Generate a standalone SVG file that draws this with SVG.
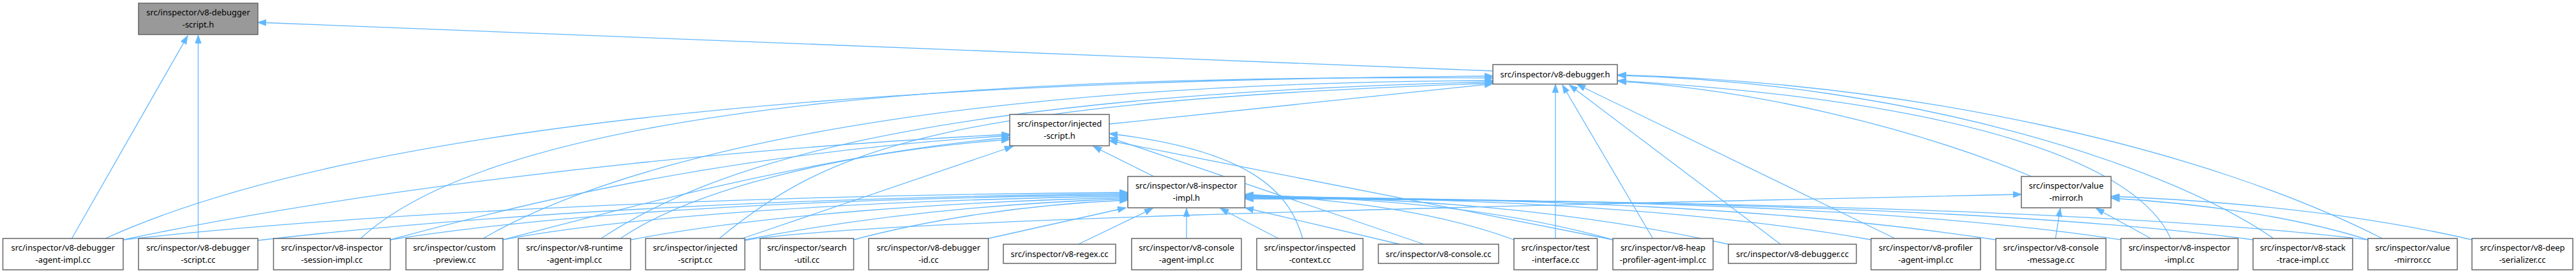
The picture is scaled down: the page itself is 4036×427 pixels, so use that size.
<svg xmlns="http://www.w3.org/2000/svg" width="4036" height="427" viewBox="0 0 4036 427">
<style>
.node rect{fill:#ffffff;stroke:#666666;stroke-width:1.5}
.node.root rect{fill:#999999}
.node text{font-family:"Noto Sans","Liberation Sans",sans-serif;font-size:13px;fill:#000000;text-anchor:middle}
.edges path{fill:none;stroke:#63b8ff;stroke-width:1.3;marker-end:url(#ah)}
</style>
<defs>
<marker id="ah" markerUnits="userSpaceOnUse" markerWidth="14" markerHeight="10" refX="13" refY="5" orient="auto" viewBox="0 0 14 10">
<path d="M0,0.3 L13,5 L0,9.7 z" fill="#63b8ff" stroke="#63b8ff" stroke-width="1"/>
</marker>
</defs>
<rect x="0" y="0" width="4036" height="427" fill="#ffffff"/>
<g class="edges" id="connectors">
<path d="M2339,111 L404,35"/>
<path d="M112.5,373 L294,56"/>
<path d="M310.5,373 L310.5,55"/>
<path d="M165,373 Q700,130 2339,119"/>
<path d="M565,373 Q850,110 2339,122"/>
<path d="M757,373 C900,290 1300,130 2339,126"/>
<path d="M941.6,373 C1100,270 1400,150 2339,128"/>
<path d="M1127,373 C1300,230 1480,160 2339,130"/>
<path d="M1738,194 L2339,131"/>
<path d="M2437,373 L2437,132"/>
<path d="M2589.6,373 L2448,133"/>
<path d="M2789.6,382 L2459,133"/>
<path d="M2969,373 L2471,132"/>
<path d="M3732.6,373 C3450,230 3000,130 2535,117"/>
<path d="M3562,373 C3400,260 3000,130 2535,118"/>
<path d="M3401,373 C3350,260 3100,160 2535,126"/>
<path d="M3183,276 C3000,200 2750,140 2535,127"/>
<path d="M193,375 C500,310 1000,240 1582,210"/>
<path d="M611.5,375 C850,310 1150,240 1582,212"/>
<path d="M788,375 C1000,320 1300,240 1582,215"/>
<path d="M972,373 C1080,300 1300,240 1582,218"/>
<path d="M1163,373 L1587,229"/>
<path d="M1808,276 L1713,229"/>
<path d="M2041,373 C2020,300 1960,235 1738,209"/>
<path d="M2231,382 L1738,215"/>
<path d="M2527,375 L1738,220"/>
<path d="M193,375 C600,330 1200,305 1767,301"/>
<path d="M404,376 C800,330 1300,308 1767,303"/>
<path d="M611.5,375 C900,330 1300,310 1767,305"/>
<path d="M788,375 C1000,335 1400,312 1767,307"/>
<path d="M988,375 C1200,335 1500,315 1767,309"/>
<path d="M1167,375 C1350,340 1550,318 1767,311"/>
<path d="M1337.5,375 C1450,345 1600,320 1767,313"/>
<path d="M1548.5,373 L1764,325"/>
<path d="M1689.5,382 L1806,326"/>
<path d="M1859,373 L1859,326"/>
<path d="M2003,373 L1912,326"/>
<path d="M2193,382 L1951,325"/>
<path d="M2372,375 C2250,330 2100,312 1951,304"/>
<path d="M2527,375 C2350,325 2150,310 1951,305"/>
<path d="M2708,382 C2450,325 2200,310 1951,306"/>
<path d="M2931.5,375 C2650,325 2300,310 1951,307"/>
<path d="M3127,375 C2800,325 2400,310 1951,308"/>
<path d="M3323,375 C3000,325 2500,311 1951,309"/>
<path d="M3530,375 C3200,330 2600,312 1951,310"/>
<path d="M3710,375 C3350,332 2700,313 1951,311"/>
<path d="M1167,376 C1350,345 2200,325 3167,304"/>
<path d="M3220.5,373 L3228,326"/>
<path d="M3370,373 L3284,326"/>
<path d="M3710,375 C3600,340 3450,318 3308,310"/>
<path d="M3873,375 C3700,335 3500,315 3308,307"/>
</g>
<g class="node root" id="n_root"><rect x="217" y="5" width="187" height="49"/><text x="310.5" y="24">src/inspector/v8-debugger</text><text x="310.5" y="42.7">-script.h</text></g>
<g class="node" id="n_dbgh"><rect x="2339" y="101" width="195" height="30.5"/><text x="2436.5" y="121">src/inspector/v8-debugger.h</text></g>
<g class="node" id="n_injh"><rect x="1582" y="179" width="156" height="49"/><text x="1660" y="198">src/inspector/injected</text><text x="1660" y="216.7">-script.h</text></g>
<g class="node" id="n_implh"><rect x="1767" y="276" width="183.5" height="49"/><text x="1858.75" y="295">src/inspector/v8-inspector</text><text x="1858.75" y="313.7">-impl.h</text></g>
<g class="node" id="n_vmh"><rect x="3167" y="276" width="140.5" height="49"/><text x="3237.25" y="295">src/inspector/value</text><text x="3237.25" y="313.7">-mirror.h</text></g>
<g class="node" id="n_agent"><rect x="4.5" y="373" width="188.5" height="49"/><text x="98.75" y="392">src/inspector/v8-debugger</text><text x="98.75" y="410.7">-agent-impl.cc</text></g>
<g class="node" id="n_scriptcc"><rect x="217" y="373" width="187" height="49"/><text x="310.5" y="392">src/inspector/v8-debugger</text><text x="310.5" y="410.7">-script.cc</text></g>
<g class="node" id="n_session"><rect x="428.5" y="373" width="183" height="49"/><text x="520" y="392">src/inspector/v8-inspector</text><text x="520" y="410.7">-session-impl.cc</text></g>
<g class="node" id="n_custom"><rect x="636" y="373" width="152" height="49"/><text x="712" y="392">src/inspector/custom</text><text x="712" y="410.7">-preview.cc</text></g>
<g class="node" id="n_runtime"><rect x="812" y="373" width="176" height="49"/><text x="900" y="392">src/inspector/v8-runtime</text><text x="900" y="410.7">-agent-impl.cc</text></g>
<g class="node" id="n_injcc"><rect x="1011.5" y="373" width="155.5" height="49"/><text x="1089.25" y="392">src/inspector/injected</text><text x="1089.25" y="410.7">-script.cc</text></g>
<g class="node" id="n_search"><rect x="1191" y="373" width="146.5" height="49"/><text x="1264.25" y="392">src/inspector/search</text><text x="1264.25" y="410.7">-util.cc</text></g>
<g class="node" id="n_dbgid"><rect x="1361" y="373" width="187.5" height="49"/><text x="1454.75" y="392">src/inspector/v8-debugger</text><text x="1454.75" y="410.7">-id.cc</text></g>
<g class="node" id="n_regex"><rect x="1572" y="382" width="176" height="30"/><text x="1660" y="401.5">src/inspector/v8-regex.cc</text></g>
<g class="node" id="n_consagent"><rect x="1773" y="373" width="172" height="49"/><text x="1859" y="392">src/inspector/v8-console</text><text x="1859" y="410.7">-agent-impl.cc</text></g>
<g class="node" id="n_inspctx"><rect x="1969" y="373" width="166.5" height="49"/><text x="2052.25" y="392">src/inspector/inspected</text><text x="2052.25" y="410.7">-context.cc</text></g>
<g class="node" id="n_console"><rect x="2159.5" y="382" width="188.5" height="30"/><text x="2253.75" y="401.5">src/inspector/v8-console.cc</text></g>
<g class="node" id="n_testif"><rect x="2372" y="373" width="130.5" height="49"/><text x="2437.25" y="392">src/inspector/test</text><text x="2437.25" y="410.7">-interface.cc</text></g>
<g class="node" id="n_heap"><rect x="2527" y="373" width="157" height="49"/><text x="2605.5" y="392">src/inspector/v8-heap</text><text x="2605.5" y="410.7">-profiler-agent-impl.cc</text></g>
<g class="node" id="n_dbgcc"><rect x="2708" y="382" width="200.5" height="30"/><text x="2808.25" y="401.5">src/inspector/v8-debugger.cc</text></g>
<g class="node" id="n_profiler"><rect x="2931.5" y="373" width="171.5" height="49"/><text x="3017.25" y="392">src/inspector/v8-profiler</text><text x="3017.25" y="410.7">-agent-impl.cc</text></g>
<g class="node" id="n_consmsg"><rect x="3127" y="373" width="172.5" height="49"/><text x="3213.25" y="392">src/inspector/v8-console</text><text x="3213.25" y="410.7">-message.cc</text></g>
<g class="node" id="n_implcc"><rect x="3323" y="373" width="183.5" height="49"/><text x="3414.75" y="392">src/inspector/v8-inspector</text><text x="3414.75" y="410.7">-impl.cc</text></g>
<g class="node" id="n_stack"><rect x="3530" y="373" width="156" height="49"/><text x="3608" y="392">src/inspector/v8-stack</text><text x="3608" y="410.7">-trace-impl.cc</text></g>
<g class="node" id="n_vmcc"><rect x="3710" y="373" width="140" height="49"/><text x="3780" y="392">src/inspector/value</text><text x="3780" y="410.7">-mirror.cc</text></g>
<g class="node" id="n_deep"><rect x="3873" y="373" width="158" height="49"/><text x="3952" y="392">src/inspector/v8-deep</text><text x="3952" y="410.7">-serializer.cc</text></g>
</svg>
